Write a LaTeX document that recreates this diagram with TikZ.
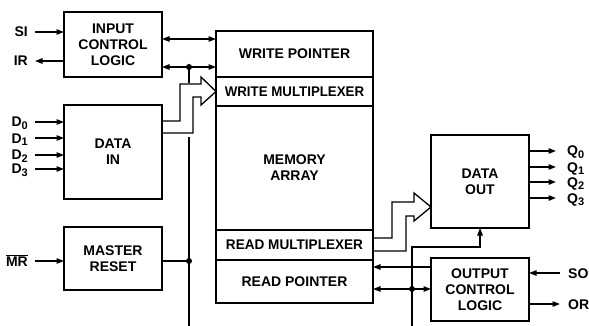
\documentclass[tikz,border=0pt]{standalone}
\usepackage{fontspec}
\setmainfont{Liberation Sans}
\usetikzlibrary{positioning,arrows.meta}
\newcommand{\pinsub}[1]{\raisebox{-2.5pt}{\fontsize{11}{11}\selectfont#1}}
\tikzset{
  sig/.style={line width=1.3pt},
  sigarrow/.style={sig,-{Triangle[length=7.5pt,width=5.5pt]}},
  sigboth/.style={sig,{Triangle[length=7.5pt,width=5.5pt]}-{Triangle[length=7.5pt,width=5.5pt]}},
  bus/.style={line width=1.3pt,line join=miter},
  box/.style={draw,line width=2.4pt,outer sep=0pt,inner sep=0pt,align=center,
    font=\fontsize{14}{16}\selectfont\bfseries},
  lbl/.style={inner sep=0pt,text height=10pt,text depth=0pt,
    font=\fontsize{14}{16}\selectfont\bfseries},
  dot/.style={circle,fill,inner sep=0pt,minimum size=6pt}
}
\begin{document}
\begin{tikzpicture}[x=1pt,y=-1pt]
  \useasboundingbox (0,0) rectangle (589,326);
  % left blocks
  \node[box,minimum width=98pt,minimum height=65pt] (icl) at (113,44.5) {INPUT\\CONTROL\\LOGIC};
  \node[box,minimum width=98pt,minimum height=94pt] (din) at (113,152) {DATA\\IN};
  \node[box,minimum width=98pt,minimum height=63pt] (mrst) at (113,258.5) {MASTER\\RESET};
  % memory column
  \node[box,minimum width=157pt,minimum height=46pt] (wp) at (294.5,54) {WRITE POINTER};
  \node[box,minimum width=157pt,minimum height=29pt,below=0pt of wp] (wm) {\scalebox{0.95}[1]{WRITE MULTIPLEXER}};
  \node[box,minimum width=157pt,minimum height=124pt,below=0pt of wm] (mem) {MEMORY\\ARRAY};
  \node[box,minimum width=157pt,minimum height=30pt,below=0pt of mem] (rm) {\scalebox{0.97}[1]{READ MULTIPLEXER}};
  \node[box,minimum width=157pt,minimum height=43pt,below=0pt of rm] (rp) {READ POINTER};
  % right blocks
  \node[box,minimum width=98pt,minimum height=93pt] (dout) at (480,181.5) {DATA\\OUT};
  \node[box,minimum width=98pt,minimum height=63pt] (ocl) at (480,289.5) {OUTPUT\\CONTROL\\LOGIC};
  % junctions and free ends
  \node[dot] (j1) at (189,67) {};
  \node[dot] (j2) at (189,261) {};
  \node[dot] (j3) at (412,289) {};
  \coordinate (wrgap) at (189,83);
  \coordinate (wrtop) at (189,137);
  \coordinate (wrbot) at (189,326);
  \coordinate (rdbot) at (412,326);
  % pins on the left
  \node[lbl,anchor=east] (si) at (28,32) {SI};
  \node[lbl,anchor=east] (ir) at (28,61) {IR};
  \node[lbl,anchor=east] (mr) at (28,261) {$\overline{\mbox{MR}}$};
  \draw[sigarrow] ([xshift=7pt]si.east) -- (si -| icl.west);
  \draw[sigarrow] (ir -| icl.west) -- ([xshift=7pt]ir.east);
  \draw[sigarrow] ([xshift=7pt]mr.east) -- (mr -| mrst.west);
  \foreach \i/\y in {0/122,1/138,2/155,3/169} {
    \node[lbl,anchor=east] (d\i) at (28,\y) {D\pinsub{\i}};
    \draw[sigarrow] ([xshift=7pt]d\i.east) -- (d\i -| din.west);
  }
  % pins on the right
  \foreach \i/\y in {0/151,1/167,2/182,3/198} {
    \node[lbl,anchor=west] (q\i) at (567,\y) {Q\pinsub{\i}};
    \draw[sigarrow] (q\i -| dout.east) -- ([xshift=-11pt]q\i.west);
  }
  \node[lbl,anchor=west] (so) at (568,273) {SO};
  \node[lbl,anchor=west] (or) at (568,304) {OR};
  \draw[sigarrow] ([xshift=-8pt]so.west) -- (so -| ocl.east);
  \draw[sigarrow] (or -| ocl.east) -- ([xshift=-8pt]or.west);
  % control lines
  \draw[sigboth] (icl.east |- 0,39) -- (wp.west |- 0,39);
  \draw[sigboth] (icl.east |- j1) -- (wp.west |- j1);
  \draw[sig] (j1.center) -- (wrgap);
  \draw[sig] (wrtop) -- (wrbot);
  \draw[sig] (mrst.east |- j2) -- (j2.center);
  \draw[sigarrow] (ocl.west |- 0,267) -- (rp.east |- 0,267);
  \draw[sigboth] (rp.east |- j3) -- (ocl.west |- j3);
  \draw[sigarrow] (rdbot) |- (dout.south |- 0,247) -- (dout.south);
  % data buses
  \draw[bus] (din.east |- 0,121) -| (180,84) -| (201,77) -- (wm.west)
    -- (201,105) |- (193,97) |- (din.east |- 0,133);
  \draw[bus] (rm.east |- 0,238) -| (392,202) -| (414,193) -- (dout.west |- 0,207)
    -- (414,221) |- (406,216) |- (rm.east |- 0,251);
\end{tikzpicture}
\end{document}
